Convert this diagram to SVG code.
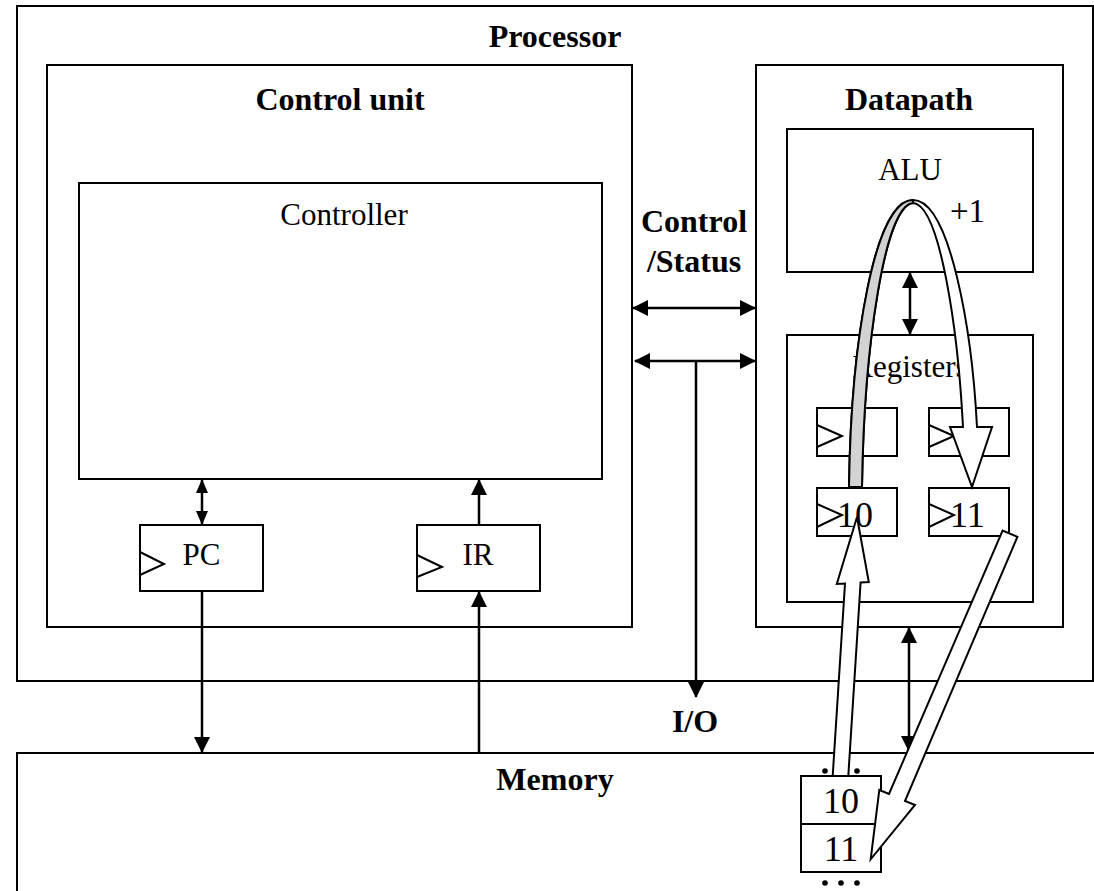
<svg xmlns="http://www.w3.org/2000/svg" width="1094" height="891" viewBox="0 0 1094 891">
<style>
.box{fill:#fff;stroke:#000;stroke-width:2}
.nofill{fill:none;stroke:#000;stroke-width:2}
.clk{fill:none;stroke:#000;stroke-width:2}
.t{font-family:"Liberation Serif","Times New Roman",serif;fill:#000}
.b{font-weight:bold;font-size:32px}
.r{font-size:31px}
.v{font-size:36px}
.conn{stroke:#000;stroke-width:2.5;fill:none}
.big{fill:#fff;stroke:#000;stroke-width:2;stroke-linejoin:miter}
</style>
<defs>
<marker id="ah" viewBox="0 0 16 16" markerUnits="userSpaceOnUse" markerWidth="16" markerHeight="16" refX="15" refY="8" orient="auto-start-reverse">
<path d="M0,0 L16,8 L0,16 Z" fill="#000"/>
</marker>
<marker id="ahs" viewBox="0 0 14 12" markerUnits="userSpaceOnUse" markerWidth="14" markerHeight="12" refX="13" refY="6" orient="auto-start-reverse">
<path d="M0,0 L14,6 L0,12 Z" fill="#000"/>
</marker>
</defs>
<rect width="1094" height="891" fill="#fff"/>

<g id="processor">
<rect class="box" x="17" y="6" width="1076" height="675"/>
<text class="t b" x="555" y="47" text-anchor="middle">Processor</text>
</g>

<g id="control-unit">
<rect class="box" x="47" y="65" width="585" height="562"/>
<text class="t b" x="340" y="110" text-anchor="middle">Control unit</text>
</g>

<g id="controller">
<rect class="box" x="79" y="183" width="523" height="296"/>
<text class="t r" x="344" y="225" text-anchor="middle">Controller</text>
</g>

<g id="pc">
<rect class="box" x="140" y="525" width="123" height="66"/>
<polyline class="clk" points="140,552 164,564 140,575"/>
<text class="t r" x="201.5" y="565" text-anchor="middle">PC</text>
</g>

<g id="ir">
<rect class="box" x="417" y="525" width="123" height="66"/>
<polyline class="clk" points="417,555 442,567 417,577"/>
<text class="t r" x="478" y="565" text-anchor="middle">IR</text>
</g>

<g id="datapath">
<rect class="box" x="756" y="65" width="307" height="562"/>
<text class="t b" x="909" y="110" text-anchor="middle">Datapath</text>
</g>

<g id="alu">
<rect class="box" x="787" y="129" width="246" height="143"/>
<text class="t r" x="910" y="180" text-anchor="middle">ALU</text>
<text class="t" x="950" y="222" font-size="33">+1</text>
</g>

<g id="registers">
<rect class="box" x="787" y="335" width="246" height="267"/>
<text class="t r" x="910" y="377" text-anchor="middle">Registers</text>
</g>

<g id="reg-a">
<rect class="box" x="817" y="408" width="80" height="48"/>
<polyline class="clk" points="817,425 842,436 817,447"/>
</g>
<g id="reg-b">
<rect class="box" x="929" y="408" width="80" height="48"/>
<polyline class="clk" points="929,425 954,436 929,447"/>
</g>
<g id="reg-10">
<rect class="box" x="817" y="488" width="80" height="48"/>
<polyline class="clk" points="817,504 842,515 817,527"/>
<text class="t v" x="837" y="527">10</text>
</g>
<g id="reg-11">
<rect class="box" x="929" y="488" width="80" height="48"/>
<polyline class="clk" points="929,504 954,515 929,527"/>
<text class="t v" x="950" y="527">11</text>
</g>

<g id="memory">
<rect class="box" x="17" y="753" width="1080" height="150"/>
<text class="t b" x="555" y="790" text-anchor="middle">Memory</text>
</g>

<g id="mem-cells">
<rect class="nofill" x="801" y="776" width="80" height="48"/>
<rect class="nofill" x="801" y="824" width="80" height="48"/>
<text class="t v" x="841" y="813" text-anchor="middle">10</text>
<text class="t v" x="841" y="861" text-anchor="middle">11</text>
<circle cx="825" cy="771" r="2.8"/>
<circle cx="841" cy="771" r="2.8"/>
<circle cx="857" cy="771" r="2.8"/>
<circle cx="825" cy="883" r="2.8"/>
<circle cx="841" cy="883" r="2.8"/>
<circle cx="857" cy="883" r="2.8"/>
</g>

<g id="labels">
<text class="t b" x="694" y="232" text-anchor="middle">Control</text>
<text class="t b" x="694" y="272" text-anchor="middle">/Status</text>
<text class="t b" x="695" y="732" text-anchor="middle">I/O</text>
</g>

<g id="connectors">
<line class="conn" x1="202" y1="480" x2="202" y2="524" marker-start="url(#ahs)" marker-end="url(#ahs)"/>
<line class="conn" x1="202" y1="591" x2="202" y2="752" marker-end="url(#ah)"/>
<line class="conn" x1="479" y1="524" x2="479" y2="480" marker-end="url(#ah)"/>
<line class="conn" x1="479" y1="753" x2="479" y2="592" marker-end="url(#ah)"/>
<line class="conn" x1="633" y1="308" x2="755" y2="308" marker-start="url(#ah)" marker-end="url(#ah)"/>
<line class="conn" x1="635" y1="361" x2="755" y2="361" marker-start="url(#ah)" marker-end="url(#ah)"/>
<line class="conn" x1="696" y1="361" x2="696" y2="697" marker-end="url(#ah)"/>
<line class="conn" x1="910" y1="273" x2="910" y2="334" marker-start="url(#ah)" marker-end="url(#ah)"/>
<line class="conn" x1="909" y1="628" x2="909" y2="751" marker-start="url(#ah)" marker-end="url(#ah)"/>
</g>

<g id="flow-arrows">
<path class="big" d="M849,487 C851,340 875,200 913,200 C950,200 972,330 977,427 L992,427 L972,487 L950,427 L963,427 C958,330 940,205 913,203 C885,205 864,345 862,487 Z"/>
<path d="M849,487 C851,340 875,200 913,200 L913,203 C885,205 864,345 862,487 Z" fill="#d3d3d3" stroke="#000" stroke-width="2"/>
<polygon class="big" points="832.7,776 845,583.5 836.8,584 857,517 868.8,582 860.6,582.5 848.3,776"/>
<polygon class="big" points="1002.6,530.6 889,794 879.3,790 870.7,859.3 915,805 905,801 1017.4,536.8"/>
</g>
</svg>
